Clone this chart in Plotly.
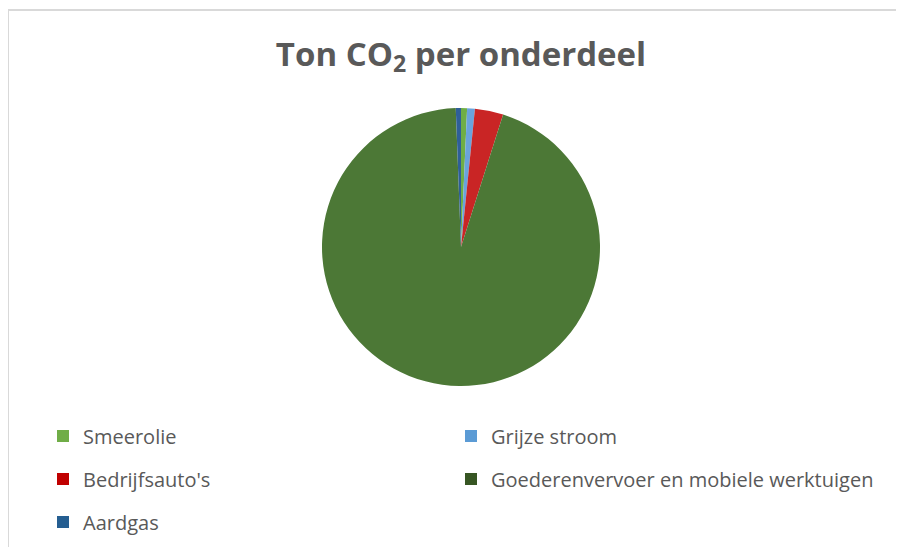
import plotly.graph_objects as go

# The page body has an 8px default margin; lay out in screen pixels, then offset.
OFF = 8
SW, SH = 904, 547
W, H = SW - OFF, SH - OFF


def px(x):
    return (x - OFF) / W


def py(y):
    return 1 - (y - OFF) / H


categories = ["Smeerolie", "Grijze stroom", "Bedrijfsauto's",
              "Goederenvervoer en mobiele werktuigen", "Aardgas"]
values = [0.7, 0.9, 3.3, 94.5, 0.6]
pie_colors = ["#6FAE45", "#6AA3DC", "#C92525", "#4C7836", "#2F5F98"]
legend_colors = ["#70AD47", "#5B9BD5", "#C00000", "#375623", "#255E91"]
title_text = "Ton CO<sub>2</sub> per onderdeel"

cx, cy, r = 461, 247, 139

fig = go.Figure()
fig.add_trace(go.Pie(
    labels=categories, values=values, sort=False, direction="clockwise",
    rotation=0, textinfo="none", hoverinfo="label+value+percent",
    marker=dict(colors=pie_colors, line=dict(width=0)),
    showlegend=False,
    domain=dict(x=[px(cx - r), px(cx + r)], y=[py(cy + r), py(cy - r)]),
))

# legend grid: (column x in screen px, row y in screen px)
col_x = [43, 451]
row_y = [436, 479, 522]
slots = [(0, 0), (1, 0), (0, 1), (1, 1), (0, 2)]

font_leg = dict(family="Open Sans, sans-serif", size=20, color="#595959")
layout_legends = {}
for i, (cat, col, (c, rr)) in enumerate(zip(categories, legend_colors, slots)):
    lid = "legend" if i == 0 else f"legend{i + 1}"
    fig.add_trace(go.Scatter(
        x=[None], y=[None], mode="markers", name=cat,
        marker=dict(symbol="square", size=12, color=col),
        legend=lid, showlegend=True, hoverinfo="skip",
    ))
    layout_legends[lid] = dict(orientation="v", xanchor="left", yanchor="middle",
                               x=px(col_x[c]), y=py(row_y[rr]), font=font_leg,
                               bgcolor="rgba(0,0,0,0)")

fig.update_layout(
    width=W, height=H,
    margin=dict(l=0, r=0, t=0, b=0, autoexpand=False),
    paper_bgcolor="white", plot_bgcolor="white",
    xaxis=dict(visible=False), yaxis=dict(visible=False),
    title=dict(text=title_text, x=px(cx), xanchor="center", y=py(54), yanchor="middle",
               font=dict(family="Open Sans, sans-serif", size=33, color="#595959",
                         weight="bold")),
    shapes=[dict(type="rect", xref="paper", yref="paper",
                 x0=px(8), x1=1.05, y0=-0.05, y1=py(10),
                 line=dict(color="#D9D9D9", width=2), layer="below")],
    **layout_legends,
)

fig.write_html("out.html")
